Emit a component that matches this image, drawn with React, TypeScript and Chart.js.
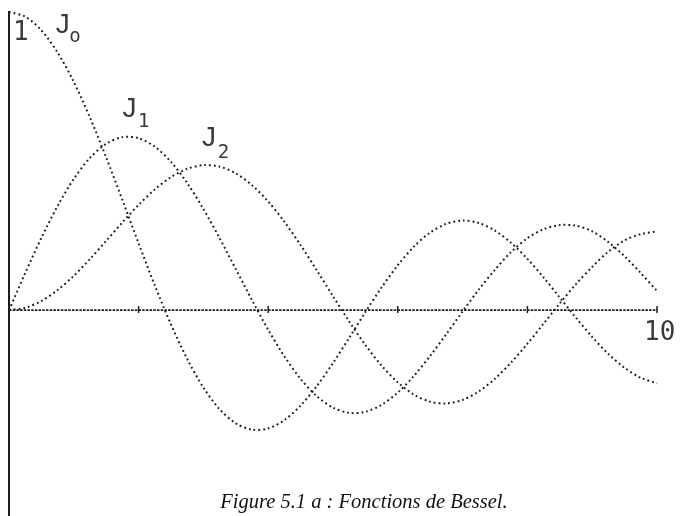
import React, { useEffect, useRef } from "react";
import { Chart, registerables } from "chart.js";

Chart.register(...registerables);

// Abscissae of the sampled curves (0 … 10, step 0.25)
const xValues = [
  0, 0.25, 0.5, 0.75, 1, 1.25, 1.5, 1.75, 2, 2.25, 2.5, 2.75, 3, 3.25, 3.5, 3.75,
  4, 4.25, 4.5, 4.75, 5, 5.25, 5.5, 5.75, 6, 6.25, 6.5, 6.75, 7, 7.25, 7.5, 7.75,
  8, 8.25, 8.5, 8.75, 9, 9.25, 9.5, 9.75, 10,
];

// J0
const j0Values = [
  1, 0.9844, 0.9385, 0.8642, 0.7652, 0.6459, 0.5118, 0.369, 0.2239, 0.0827,
  -0.0484, -0.1641, -0.2601, -0.3328, -0.3801, -0.4014, -0.3971, -0.3692,
  -0.3205, -0.2551, -0.1776, -0.0931, -0.0068, 0.076, 0.1506, 0.2131, 0.2601,
  0.2895, 0.3001, 0.292, 0.2663, 0.2252, 0.1717, 0.1092, 0.0419, -0.026,
  -0.0903, -0.1474, -0.1939, -0.2273, -0.2459,
];

// J1
const j1Values = [
  0, 0.124, 0.2423, 0.3492, 0.4401, 0.5106, 0.5579, 0.5802, 0.5767, 0.5483,
  0.4971, 0.4259, 0.3391, 0.2411, 0.1374, 0.0332, -0.066, -0.1555, -0.2311,
  -0.2891, -0.3276, -0.345, -0.3414, -0.3179, -0.2767, -0.2207, -0.1538,
  -0.0803, -0.0047, 0.0686, 0.1353, 0.195, 0.241, 0.271, 0.285, 0.283, 0.264,
  0.228, 0.18, 0.124, 0.064,
];

// J2
const j2Values = [
  0, 0.0078, 0.0306, 0.0671, 0.1149, 0.1711, 0.2321, 0.294, 0.3528, 0.4047,
  0.4461, 0.4739, 0.4861, 0.4811, 0.4586, 0.4191, 0.3641, 0.296, 0.2178,
  0.1334, 0.0466, -0.0383, -0.1173, -0.1865, -0.2429, -0.2837, -0.3074,
  -0.3133, -0.3014, -0.2731, -0.2303, -0.1758, -0.113, -0.0456, 0.0223, 0.0871,
  0.1448, 0.196, 0.234, 0.255, 0.264,
];

// Marks along the horizontal axis
const xTickValues = [2, 4, 6, 8, 10];

const caption = "Figure 5.1 a : Fonctions de Bessel.";

const INK = "#1c1c1c";

const toPoints = (ys: number[]) => xValues.map((x, i) => ({ x, y: ys[i] }));

const axesAndLabels = {
  id: "axesAndLabels",
  afterDatasetsDraw(chart: any) {
    const { ctx, scales } = chart;
    const xs = scales.x;
    const ys = scales.y;
    const px = (v: number) => xs.getPixelForValue(v);
    const py = (v: number) => ys.getPixelForValue(v);
    ctx.save();

    // vertical axis, down to the bottom edge
    ctx.strokeStyle = INK;
    ctx.lineWidth = 2;
    ctx.beginPath();
    ctx.moveTo(px(0), py(1) - 1);
    ctx.lineTo(px(0), chart.height);
    ctx.stroke();

    // horizontal axis (y = 0)
    ctx.lineWidth = 1.7;
    ctx.setLineDash([2.5, 1.2]);
    ctx.beginPath();
    ctx.moveTo(px(0), py(0));
    ctx.lineTo(px(10), py(0));
    ctx.stroke();
    ctx.setLineDash([]);

    // tick marks
    ctx.lineWidth = 1.5;
    xTickValues.forEach((t) => {
      ctx.beginPath();
      ctx.moveTo(px(t), py(0) - 4);
      ctx.lineTo(px(t), py(0) + 3);
      ctx.stroke();
    });

    ctx.fillStyle = "#3a3a3a";
    ctx.textBaseline = "alphabetic";
    ctx.textAlign = "left";

    // "1" at the top of the vertical axis
    ctx.font = '26px "DejaVu Sans Mono"';
    ctx.fillText("1", px(0.06), py(0.906));

    // "10" at the end of the horizontal axis
    ctx.fillText("10", px(9.8), py(-0.1));

    // curve names
    const name = (sub: string, jx: number, jy: number, sx: number, sy: number) => {
      ctx.font = '28px "Liberation Sans"';
      ctx.fillText("J", px(jx), py(jy));
      ctx.font = '19px "DejaVu Sans Mono"';
      ctx.fillText(sub, px(sx), py(sy));
    };
    name("o", 0.72, 0.93, 0.93, 0.9);
    name("1", 1.75, 0.648, 1.99, 0.614);
    name("2", 2.98, 0.55, 3.22, 0.51);

    // caption
    ctx.fillStyle = "#111";
    ctx.font = 'italic 20.5px "Liberation Serif"';
    ctx.textAlign = "center";
    ctx.fillText(caption, 364, 508);

    ctx.restore();
  },
};

export default function App() {
  const canvasRef = useRef<HTMLCanvasElement | null>(null);

  useEffect(() => {
    if (!canvasRef.current) return;
    const curve = (label: string, ys: number[]) => ({
      label,
      data: toPoints(ys),
      showLine: true,
      borderColor: INK,
      borderWidth: 2,
      borderDash: [1.8, 3],
      borderCapStyle: "butt" as const,
      pointRadius: 0,
      tension: 0.3,
      clip: 6,
    });

    const chart = new Chart(canvasRef.current, {
      type: "scatter",
      data: {
        datasets: [
          curve("J0", j0Values),
          curve("J1", j1Values),
          curve("J2", j2Values),
        ],
      },
      options: {
        animation: false,
        responsive: false,
        layout: { padding: { left: 9, right: 23, top: 12, bottom: 0 } },
        plugins: {
          legend: { display: false },
          tooltip: { enabled: false },
        },
        scales: {
          x: { type: "linear", min: 0, max: 10, display: false },
          y: { type: "linear", min: -0.691, max: 1, display: false },
        },
      },
      plugins: [axesAndLabels],
    });
    return () => chart.destroy();
  }, []);

  return (
    <div
      style={{
        position: "fixed",
        left: 0,
        top: 0,
        width: 680,
        height: 516,
        background: "#fff",
      }}
    >
      <canvas ref={canvasRef} width={680} height={516} />
    </div>
  );
}
